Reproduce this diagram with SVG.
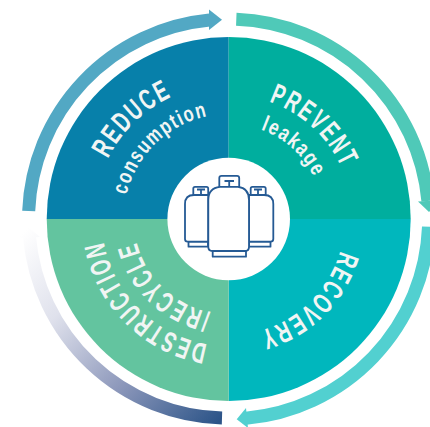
<svg xmlns="http://www.w3.org/2000/svg" xmlns:xlink="http://www.w3.org/1999/xlink" width="430" height="427" viewBox="0 0 430 427">
<style>
.t{font-family:"Liberation Sans",sans-serif;fill:#f1f5f4;text-anchor:middle;font-weight:700}
.h{font-size:29px;letter-spacing:3px}
.s{font-size:22px;letter-spacing:2px}
.ic{fill:#fff;stroke:#255a94;stroke-width:1.8;stroke-linejoin:round}
.ar{fill:none;stroke-width:13}
</style>
<defs>
<linearGradient id="fade" gradientUnits="userSpaceOnUse" x1="222" y1="418" x2="28" y2="228">
<stop offset="0" stop-color="#2c5488"/><stop offset=".35" stop-color="#8d98bb"/><stop offset=".7" stop-color="#dfe1ec"/><stop offset="1" stop-color="#fff"/>
</linearGradient>
<path id="r135" d="M93.7 219A135 135 0 0 1 363.7 219"/>
<path id="r105" d="M123.7 219A105 105 0 0 1 333.7 219"/>
<path id="r124" d="M104.7 219A124 124 0 0 1 352.7 219"/>
<path id="r95" d="M133.7 219A95 95 0 0 1 323.7 219"/>
<path id="r116" d="M112.7 219A116 116 0 0 1 344.7 219"/>
<path id="r127" d="M101.7 219A127 127 0 0 1 355.7 219"/>
</defs>
<rect width="430" height="427" fill="#fff"/>
<g id="connectors">
<g id="arrow-reduce"><path class="ar" stroke="#52a8c4" d="M28.7 211A200 200 0 0 1 209.5 20"/><path fill="#52a8c4" d="M209 9.5L222 19.7L209 30Z"/></g>
<g id="arrow-prevent"><path class="ar" stroke="#4fc9b8" d="M236.3 19.2A200 200 0 0 1 427.9 201"/><path fill="#4fc9b8" d="M418 201.5L429 212L440 200Z"/></g>
<g id="arrow-recovery"><path class="ar" stroke="#52d0d0" d="M428.5 226.7A200 200 0 0 1 246 418.2"/><path fill="#52d0d0" d="M246 408L236.7 419.3L248 428Z"/></g>
<g id="arrow-destruction"><path class="ar" stroke="url(#fade)" stroke-width="12" d="M222 418A199 199 0 0 1 29.5 237"/><path fill="url(#fade)" d="M18 238L28 227L40 237Z"/></g>
</g>
<g id="node-reduce"><path fill="#0780aa" d="M228.7 219V37A182 182 0 0 0 46.7 219Z"/>
<text class="t h" transform="rotate(-44 228.7 219)"><textPath href="#r135" startOffset="50%" textLength="92" lengthAdjust="spacingAndGlyphs">REDUCE</textPath></text>
<text class="t s" transform="rotate(-44 228.7 219)"><textPath href="#r105" startOffset="50%" textLength="120" lengthAdjust="spacingAndGlyphs">consumption</textPath></text></g>
<g id="node-prevent"><path fill="#00ae9e" d="M228.7 219V37A182 182 0 0 1 410.7 219Z"/>
<text class="t h" transform="rotate(42.5 228.7 219)"><textPath href="#r124" startOffset="50%" textLength="102" lengthAdjust="spacingAndGlyphs">PREVENT</textPath></text>
<text class="t s" transform="rotate(42 228.7 219)"><textPath href="#r95" startOffset="50%" textLength="74" lengthAdjust="spacingAndGlyphs">leakage</textPath></text></g>
<g id="node-recovery"><path fill="#00b7bd" d="M228.7 219H410.7A182 182 0 0 1 228.7 401Z"/>
<text class="t h" transform="rotate(135.5 228.7 219)"><textPath href="#r116" startOffset="50%" textLength="120" lengthAdjust="spacingAndGlyphs">RECOVERY</textPath></text></g>
<g id="node-destruction"><path fill="#63c49f" d="M228.7 219V401A182 182 0 0 1 46.7 219Z"/>
<text class="t h" transform="rotate(225 228.7 219)"><textPath href="#r127" startOffset="50%" textLength="157" lengthAdjust="spacingAndGlyphs">DESTRUCTION</textPath></text>
<text class="t h" transform="rotate(224 228.7 219)"><textPath href="#r95" startOffset="50%" textLength="109" lengthAdjust="spacingAndGlyphs">/RECYCLE</textPath></text></g>
<g id="node-cylinders">
<circle cx="228.7" cy="219" r="61.3" fill="#fff"/>
<g class="ic">
<path d="M188.5 241.7V246.7H208V241.7Z"/>
<path d="M193.3 195V188.5Q193.3 186.8 195 186.8H206.5Q208.2 186.8 208.2 188.5V195Z"/>
<path fill="none" d="M197 189.5H205M201 189.5V195"/>
<path d="M194 195H208.3V241.7H187.5Q185 241.7 185 239V204Q185 195 194 195Z"/>
<path d="M249 241.7V246.7H270.5V241.7Z"/>
<path d="M250.7 195V188.5Q250.7 186.8 252.4 186.8H264Q265.7 186.8 265.7 188.5V195Z"/>
<path fill="none" d="M254 189.5H262M258 189.5V195"/>
<path d="M249 195H264Q273.3 195 273.3 204V239Q273.3 241.7 270.6 241.7H249Z"/>
<path d="M212.7 251V256.7H246V251Z"/>
<path d="M219.3 186.8V178Q219.3 175.8 221.5 175.8H237Q239.2 175.8 239.2 178V186.8Z"/>
<path fill="none" d="M224.5 181H234M229.2 181V186.8"/>
<path d="M220 186.8H238Q249 188 249 200V247Q249 251 245 251H212.5Q208.3 251 208.3 247V200Q208.3 188 220 186.8Z"/>
</g>
</g>
</svg>
